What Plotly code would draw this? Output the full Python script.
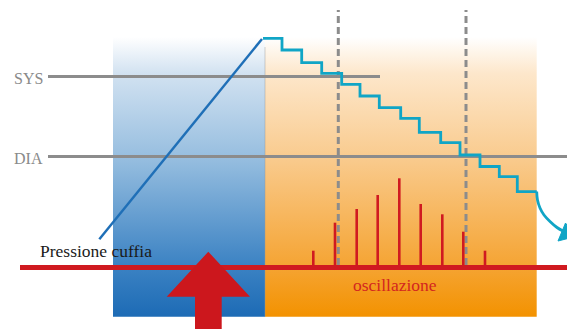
import plotly.graph_objects as go

# ---- data (diagram units: x = time, y = height/pressure level) ----
panel_blue_x = [113, 265]
panel_orange_x = [265, 536.7]
panel_y = [12.3, 292]

sys_level = 252.5
sys_x = [48, 380]
dia_level = 172.5
dia_x = [48, 575]

dash_x = [338.3, 466]
dash_y = [64, 319]

inflate_x = [99.3, 262]
inflate_y = [89.7, 290]

step_x = [263, 282, 301.7, 321.7, 341.7, 360, 379.3, 400.7, 419.3, 440.7,
          460, 480, 499.3, 517.3, 536.7]
step_y = [290.7, 279, 266.3, 255.7, 244.7, 233, 221.3, 210.7, 196.7, 186.3,
          174, 162.5, 152.3, 137.3, 137.3]
tail_x = [536.7, 537.5, 540, 544, 550, 557, 563]
tail_y = [137.5, 129, 121, 114, 107.5, 101.5, 98]
tail_head_x = [574.8, 565.5, 558, 574.8]
tail_head_y = [92.3, 106, 88, 92.3]

base_level = 61.5
base_x = [20, 575]

osc_x = [313.3, 335, 356.7, 377.7, 399.3, 420.7, 442.3, 463.3, 485]
osc_amp = [16.8, 44.8, 58.5, 72.5, 89.2, 63.5, 53.2, 35.8, 16.8]

arrow_x = [208.3, 250, 221.7, 221.7, 195, 195, 166.7, 208.3]
arrow_y = [77.3, 32.3, 32.3, 0, 0, 32.3, 32.3, 77.3]

labels = {
    "SYS": (12, 250.5),
    "DIA": (12, 171),
    "Pressione cuffia": (38, 78.5),
    "oscillazione": (351, 44.5),
}

BLUE_SCALE = [[0, "#1d6bb5"], [0.18, "#3b82c3"], [0.56, "#95bddf"],
              [0.87, "#d2e2f1"], [1, "#ffffff"]]
ORANGE_SCALE = [[0, "#f39200"], [0.18, "#f5a433"], [0.56, "#f9ca8c"],
                [0.87, "#fde7cb"], [1, "#ffffff"]]

fig = go.Figure()


def panel(xr, scale):
    fig.add_trace(go.Scatter(
        x=[xr[0], xr[1], xr[1], xr[0], xr[0]],
        y=[panel_y[0], panel_y[0], panel_y[1], panel_y[1], panel_y[0]],
        mode="lines", line=dict(width=0), fill="toself",
        fillgradient=dict(type="vertical", colorscale=scale,
                          start=panel_y[0], stop=panel_y[1]),
        hoverinfo="skip"))


panel(panel_blue_x, BLUE_SCALE)
panel(panel_orange_x, ORANGE_SCALE)
# thin seam between the two panels
fig.add_trace(go.Scatter(x=[panel_orange_x[0]] * 2, y=[panel_y[0], panel_y[1] - 10],
                         mode="lines", line=dict(color="rgba(150,150,150,0.45)", width=1),
                         hoverinfo="skip"))

GRAY = "#8c8c8c"
fig.add_trace(go.Scatter(x=sys_x, y=[sys_level] * 2, mode="lines",
                         line=dict(color=GRAY, width=3), hoverinfo="skip"))
fig.add_trace(go.Scatter(x=dia_x, y=[dia_level] * 2, mode="lines",
                         line=dict(color=GRAY, width=3), hoverinfo="skip"))
for dx in dash_x:
    fig.add_trace(go.Scatter(x=[dx, dx], y=dash_y, mode="lines",
                             line=dict(color=GRAY, width=3, dash="7px,4px"),
                             hoverinfo="skip"))

fig.add_trace(go.Scatter(x=inflate_x, y=inflate_y, mode="lines",
                         line=dict(color="#1f6fb7", width=2.5), hoverinfo="skip"))

CYAN = "#10a5c6"
fig.add_trace(go.Scatter(x=step_x, y=step_y, mode="lines",
                         line=dict(color=CYAN, width=2.8, shape="hv"),
                         hoverinfo="skip"))
fig.add_trace(go.Scatter(x=tail_x, y=tail_y, mode="lines",
                         line=dict(color=CYAN, width=2.8, shape="spline"),
                         hoverinfo="skip"))
fig.add_trace(go.Scatter(x=tail_head_x, y=tail_head_y, mode="lines",
                         fill="toself", fillcolor=CYAN, line=dict(width=1, color=CYAN),
                         hoverinfo="skip"))

RED = "#d01a20"
# oscillation spikes: one vertical segment per pulse, drawn from the base line
spike_x, spike_y = [], []
for sx, amp in zip(osc_x, osc_amp):
    spike_x += [sx, sx, None]
    spike_y += [base_level, base_level + amp, None]
fig.add_trace(go.Scatter(x=spike_x, y=spike_y, mode="lines",
                         line=dict(color=RED, width=2.6), hoverinfo="skip"))
fig.add_trace(go.Scatter(x=base_x, y=[base_level] * 2, mode="lines",
                         line=dict(color=RED, width=5), hoverinfo="skip"))
fig.add_trace(go.Scatter(x=arrow_x, y=arrow_y, mode="lines", fill="toself",
                         fillcolor="#cc171d", line=dict(width=0, color="#cc171d"),
                         hoverinfo="skip"))

styles = {
    "SYS": dict(size=16, color="#8a8a8a"),
    "DIA": dict(size=16, color="#8a8a8a"),
    "Pressione cuffia": dict(size=17.5, color="#1a1a1a"),
    "oscillazione": dict(size=17.5, color="#d3261f"),
}
for txt, (lx, ly) in labels.items():
    fig.add_annotation(x=lx, y=ly, text=txt, showarrow=False, xanchor="left",
                       yanchor="middle", xref="x", yref="y",
                       font=dict(family="Liberation Serif", **styles[txt]))

# the page body has an 8px margin: the figure covers page pixels 8..575 x 8..329
fig.update_layout(
    width=567, height=321, margin=dict(l=0, r=0, t=0, b=0),
    paper_bgcolor="white", plot_bgcolor="white", showlegend=False,
    xaxis=dict(range=[8, 575], visible=False, fixedrange=True),
    yaxis=dict(range=[0, 321], visible=False, fixedrange=True),
)

fig.write_html("out.html")
